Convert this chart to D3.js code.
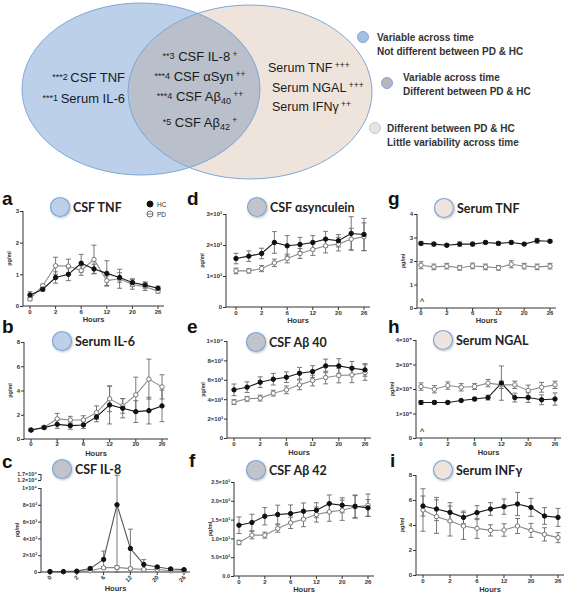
<!DOCTYPE html>
<html><head><meta charset="utf-8">
<script src="https://cdn.jsdelivr.net/npm/d3@7"></script>
<style>body{margin:0;background:#fff}svg{display:block}</style>
</head><body>
<svg id="c" width="567" height="594"></svg>
<script>
// ---------- DATA ----------
const hours = ["0","1","2","4","6","9","12","16","20","23","26"];
const tickHours = ["0","2","6","12","20","26"];
const seriesNames = ["HC","PD"];

const aHC=[0.35,0.53,0.9,1.0,1.35,1.17,1.03,0.9,0.74,0.66,0.56];
const aHCErr=[0.1,0.06,0.18,0.2,0.28,0.15,0.4,0.15,0.12,0.1,0.07];
const aPD=[0.22,0.64,1.27,1.26,1.12,1.47,0.8,0.86,0.68,0.61,0.47];
const aPDErr=[0.05,0.05,0.27,0.22,0.15,0.45,0.15,0.3,0.15,0.12,0.06];
const aTicks=[0,1,2,3], aTickLabels=["0","1","2","3"];

const bHC=[0.74,0.94,1.21,1.1,1.16,1.82,2.81,2.54,2.26,2.34,2.73];
const bHCErr=[0.1,0.1,0.33,0.3,0.3,0.4,1.57,0.8,0.9,1.1,1.3];
const bPD=[0.74,0.97,1.66,1.57,1.57,2.18,3.31,2.73,3.64,4.94,4.3];
const bPDErr=[0.1,0.1,0.45,0.3,0.35,0.55,1.05,0.6,1.46,1.65,1.0];
const bTicks=[0,2,4,6,8], bTickLabels=["0","2","4","6","8"];

const cHC=[50,50,100,420,1500,8000,2800,900,600,360,280];
const cHCErr=[20,20,40,100,1000,8000,2300,570,150,100,80];
const cPD=[30,30,50,150,500,550,400,300,300,150,100];
const cPDErr=[10,10,20,50,150,200,150,100,80,50,30];
const cTicks=[0,2000,4000,6000,8000,10000,12000,17000];
const cTickLabels=["0","2×10³","4×10³","6×10³","8×10³","1×10⁴","1.2×10⁴","1.7×10⁴"];

const dHC=[1564,1640,1726,2082,1974,2017,2082,2190,2136,2373,2340];
const dHCErr=[170,170,170,350,330,230,220,250,200,540,520];
const dPD=[1165,1165,1240,1424,1564,1726,1855,1974,2028,2190,2265];
const dPDErr=[90,70,100,120,140,160,190,230,220,350,450];
const dTicks=[0,1000,2000,3000], dTickLabels=["0","1×10³","2×10³","3×10³"];

const eHC=[4966,5240,5753,6062,6267,6678,6849,7431,7431,7192,7020];
const eHCErr=[600,550,550,600,550,600,600,700,750,700,650];
const ePD=[3700,4041,4110,4623,4966,5479,5924,6233,6438,6507,6747];
const ePDErr=[250,250,300,300,400,500,550,650,750,800,800];
const eTicks=[0,2000,4000,6000,8000,10000];
const eTickLabels=["0","2×10³","4×10³","6×10³","8×10³","1×10⁴"];

const fHC=[1351,1422,1590,1634,1660,1722,1749,1925,1881,1855,1811];
const fHCErr=[220,220,230,250,230,220,200,230,200,300,220];
const fPD=[892,1087,1087,1263,1413,1511,1634,1705,1749,1837,1881];
const fPDErr=[60,100,80,100,150,200,200,250,270,300,300];
const fTicks=[0,500,1000,1500,2000,2500];
const fTickLabels=["0.0","5.0×10²","1.0×10³","1.5×10³","2.0×10³","2.5×10³"];

const gHC=[2.75,2.72,2.67,2.72,2.72,2.79,2.75,2.79,2.72,2.86,2.84];
const gHCErr=[0.07,0.08,0.06,0.09,0.08,0.06,0.07,0.06,0.05,0.1,0.06];
const gPD=[1.82,1.75,1.78,1.71,1.79,1.75,1.71,1.86,1.78,1.75,1.78];
const gPDErr=[0.15,0.12,0.12,0.1,0.12,0.12,0.1,0.15,0.12,0.12,0.12];
const gTicks=[0,1,2,3,4], gTickLabels=["0","1","2","3","4"];

const hHC=[145000,145000,145000,153000,159000,165000,224000,165000,165000,156000,159000];
const hHCErr=[8000,7000,5000,3000,7000,10000,70000,18000,20000,20000,25000];
const hPD=[210000,199000,214000,207000,210000,224000,217000,217000,194000,207000,217000];
const hPDErr=[15000,15000,15000,15000,12000,15000,15000,15000,22000,20000,15000];
const hTicks=[0,100000,200000,300000,400000];
const hTickLabels=["0","1×10⁵","2×10⁵","3×10⁵","4×10⁵"];

const iHC=[5.52,5.28,5.01,4.61,4.99,5.28,5.47,5.68,5.41,4.72,4.61];
const iHCErr=[0.8,0.93,0.78,0.51,0.56,0.51,0.61,0.93,0.72,0.67,0.72];
const iPD=[5.2,4.67,4.32,3.92,3.73,3.57,3.6,3.92,3.57,3.25,2.99];
const iPDErr=[1.7,1.34,1.2,1.07,0.8,0.45,0.5,0.6,0.56,0.53,0.4];
const iTicks=[0,2,4,6,8], iTickLabels=["0","2","4","6","8"];

const panelLetters=["a","b","c","d","e","f","g","h","i"];
const panelTitles=["CSF TNF","Serum IL-6","CSF IL-8","CSF \u03b1synculein","CSF A\u03b2 40","CSF A\u03b2 42","Serum TNF","Serum NGAL","Serum INF\u03b3"];

const vennLeftPre=["***2","***1"], vennLeftNames=["CSF TNF","Serum IL-6"];
const vennMidPre=["**3","***4","***4","*5"], vennMidNames=["CSF IL-8","CSF \u03b1Syn","CSF A\u03b2","CSF A\u03b2"];
const vennMidSub=["","","40","42"], vennMidPost=["+","++","++","+"];
const vennRightNames=["Serum TNF","Serum NGAL","Serum IFN\u03b3"], vennRightPost=["+++","+++","++"];
const legendLines=[["Variable across time","Not different between PD & HC"],["Variable across time","Different between PD & HC"],["Different between PD & HC","Little variability across time"]];

// ---------- STYLE ----------
const svg=d3.select("#c");
const SANS="'Liberation Sans', Arial, Helvetica, sans-serif";
const TITLEF="Lato, 'Open Sans', sans-serif";
const BLUE="#bcd0e9", GRAY="#c3c4cb", BEIGE="#efe4dc", EDGE="#7ea7d6";
const groupCols=[BLUE,BLUE,GRAY,GRAY,GRAY,GRAY,BEIGE,BEIGE,BEIGE];

// ---------- VENN ----------
const L={cx:141,cy:89,rx:119,ry:86}, R={cx:250,cy:92,rx:122,ry:87};
const defs=svg.append("defs");
defs.append("clipPath").attr("id","lclip").append("ellipse").attr("cx",L.cx).attr("cy",L.cy).attr("rx",L.rx).attr("ry",L.ry);
const flt=defs.append("filter").attr("id","sh").attr("x","-50%").attr("y","-50%").attr("width","200%").attr("height","200%");
flt.append("feDropShadow").attr("dx",0.8).attr("dy",1).attr("stdDeviation",0.9).attr("flood-color","#000").attr("flood-opacity",0.25);
const ell=(e,fill,stroke,clip)=>{const s=svg.append("ellipse").attr("cx",e.cx).attr("cy",e.cy).attr("rx",e.rx).attr("ry",e.ry).attr("fill",fill).attr("stroke",stroke).attr("stroke-width",1);if(clip)s.attr("clip-path","url(#lclip)");return s;};
ell(R,BEIGE,"none");
ell(L,BLUE,"none");
ell(R,"#b9c0cb","none",true);
ell(R,"none",EDGE);
ell(L,"none",EDGE);

function richText(x,y,anchor,parts){
  const t=svg.append("text").attr("x",x).attr("y",y).attr("text-anchor",anchor)
    .attr("font-family",SANS).attr("fill","#1a1a1a");
  let cur=0;
  parts.forEach(p=>{
    if(!p.t) return;
    const target=p.shift||0;
    t.append("tspan").attr("dy",target-cur).attr("font-size",p.s).text(p.t);
    cur=target;
  });
  return t;
}
vennLeftNames.forEach((n,k)=>{
  richText(125,[82,103][k],"end",[{t:vennLeftPre[k],s:9,shift:-2.5},{t:"\u2009"+n,s:13,shift:0}]);
});
vennMidNames.forEach((n,k)=>{
  richText(200,[61,81,101,127][k],"middle",[
    {t:vennMidPre[k],s:9,shift:-2.5},{t:" "+n,s:13,shift:0},
    {t:vennMidSub[k],s:9,shift:3},{t:" "+vennMidPost[k],s:8.5,shift:-4}]);
});
vennRightNames.forEach((n,k)=>{
  richText([268,272,272][k],[72,92,111][k],"start",[{t:n,s:12.5,shift:0},{t:" "+vennRightPost[k],s:8.5,shift:-4}]);
});
// legend
const legCirc=[[363,37,"#a3bfe1"],[387,83,"#b5b6be"],[375,128,"#eee3db"]];
const legText=[[377,41],[403,81],[387,132]];
legendLines.forEach((ls,k)=>{
  svg.append("circle").attr("cx",legCirc[k][0]).attr("cy",legCirc[k][1]).attr("r",5.5)
    .attr("fill",legCirc[k][2]).attr("stroke",k==2?"#b9cbe0":EDGE).attr("stroke-width",1);
  ls.forEach((s,j)=>svg.append("text").attr("x",legText[k][0]).attr("y",legText[k][1]+j*14)
    .attr("font-family",SANS).attr("font-weight","bold").attr("font-size",10).attr("fill","#333").text(s));
});

// ---------- PANELS ----------
const panelData=[
 [aHC,aHCErr,aPD,aPDErr,aTicks,aTickLabels],
 [bHC,bHCErr,bPD,bPDErr,bTicks,bTickLabels],
 [cHC,cHCErr,cPD,cPDErr,cTicks,cTickLabels],
 [dHC,dHCErr,dPD,dPDErr,dTicks,dTickLabels],
 [eHC,eHCErr,ePD,ePDErr,eTicks,eTickLabels],
 [fHC,fHCErr,fPD,fPDErr,fTicks,fTickLabels],
 [gHC,gHCErr,gPD,gPDErr,gTicks,gTickLabels],
 [hHC,hHCErr,hPD,hPDErr,hTicks,hTickLabels],
 [iHC,iHCErr,iPD,iPDErr,iTicks,iTickLabels]
];
// layout: axisX, px0, px1, yBottom, yTop, tickLabelY, hoursY, letterX, letterY, circX, circY
const layout=[
 [23,30,158,306,211,312,319,2,205,60,207],
 [24,31,162,439,342,444,453,2,333,62,341],
 [41,50,184,572,488,578,588,2,468,62,469],
 [226,236,364,307,214,313,320,187,205,257,207],
 [227,234,365,438,341,444,452,187,333,256,342],
 [234,239,368,576,482,582,589,189,467,256,470],
 [417,421,550,308,214,313,320,388,205,444,208],
 [416,421,555,438,340,444,452,388,333,443,340],
 [416,423,558,575,475,581,589,390,467,443,470]
];

panelData.forEach((pd,k)=>{
  const [hc,hcE,pdv,pdE,ticks,tickLabels]=pd;
  const [ax,px0,px1,yb,yt,tly,hy,lx,ly,cx,cy]=layout[k];
  const g=svg.append("g");
  const x=d3.scalePoint().domain(hours).range([px0,px1]);
  let y;
  if(k===2){
    y=d3.scaleLinear().domain([0,10000,12000,17000]).range([yb,yt,480,474]);
  } else {
    y=d3.scaleLinear().domain([ticks[0],ticks[ticks.length-1]]).range([yb,yt]);
  }
  const yAxis=d3.axisLeft(y).tickValues(ticks).tickFormat((d,i)=>tickLabels[i]).tickSize(3).tickSizeOuter(0);
  const ya=g.append("g").attr("transform",`translate(${ax},0)`).call(yAxis);
  ya.select(".domain").remove();
  if(k===2){
    g.append("line").attr("x1",ax).attr("x2",ax).attr("y1",y(0)).attr("y2",y(10000)).attr("stroke","#333");
    g.append("line").attr("x1",ax).attr("x2",ax).attr("y1",y(12000)).attr("y2",y(17000)).attr("stroke","#333");
  } else {
    g.append("line").attr("x1",ax).attr("x2",ax).attr("y1",yb).attr("y2",yt).attr("stroke","#333");
  }
  ya.selectAll(".tick line").attr("stroke","#333");
  ya.selectAll("text").attr("font-family",SANS).attr("font-size",k===2||k===5?5.5:6).attr("font-weight","bold").attr("fill","#333").attr("x",-4);
  g.append("line").attr("x1",ax).attr("x2",px1+6).attr("y1",yb).attr("y2",yb).attr("stroke","#333");
  tickHours.forEach(h=>{
    g.append("line").attr("x1",x(h)).attr("x2",x(h)).attr("y1",yb).attr("y2",yb+3).attr("stroke","#333");
    const t=g.append("text").attr("font-family",SANS).attr("font-size",6).attr("font-weight","bold").attr("fill","#333").text(h);
    if(k===2){
      t.attr("text-anchor","end").attr("transform",`translate(${x(h)+2},${yb+6}) rotate(-45)`);
    } else {
      t.attr("x",x(h)).attr("y",tly+2).attr("text-anchor","middle");
    }
  });
  g.append("text").attr("x",(ax+px1)/2+3).attr("y",hy+2.5).attr("text-anchor","middle")
    .attr("font-family",SANS).attr("font-size",7.5).attr("font-weight","bold").attr("fill","#333").text("Hours");
  g.append("text").attr("transform",`translate(${ax-(k===2||k===5||k===3||k===4||k===7?22:12)},${(yb+yt)/2}) rotate(-90)`)
    .attr("text-anchor","middle").attr("font-family",SANS).attr("font-size",5.5).attr("font-weight","bold").attr("fill","#333").text("pg/ml");
  g.append("text").attr("x",lx).attr("y",ly).attr("font-family",SANS).attr("font-weight","bold").attr("font-size",19).attr("fill","#111").text(panelLetters[k]);
  g.append("circle").attr("cx",cx).attr("cy",cy).attr("r",9.5).attr("fill",groupCols[k]).attr("stroke",EDGE).attr("stroke-width",1.2).attr("filter","url(#sh)");
  g.append("text").attr("x",cx+13).attr("y",cy+4.5).attr("font-family",TITLEF).attr("font-weight","bold").attr("font-size",12.5).attr("fill","#222").text(panelTitles[k]);

  const series=[{v:pdv,e:pdE,line:"#8c8c8c",fill:"#fff",stroke:"#777"},{v:hc,e:hcE,line:k===2?"#555":"#1a1a1a",fill:"#111",stroke:"#111"}];
  series.forEach(s=>{
    const pts=hours.map((h,i)=>[x(h),y(s.v[i])]);
    g.append("path").attr("d",d3.line()(pts)).attr("fill","none").attr("stroke",s.line).attr("stroke-width",1.1);
  });
  series.forEach(s=>{
    hours.forEach((h,i)=>{
      const lo=Math.max(0,s.v[i]-s.e[i]), hi=s.v[i]+s.e[i];
      const xx=x(h);
      g.append("line").attr("x1",xx).attr("x2",xx).attr("y1",y(lo)).attr("y2",y(hi)).attr("stroke","#6a6a6a").attr("stroke-width",0.9);
      [lo,hi].forEach(v=>g.append("line").attr("x1",xx-2.5).attr("x2",xx+2.5).attr("y1",y(v)).attr("y2",y(v)).attr("stroke","#6a6a6a").attr("stroke-width",0.9));
    });
  });
  series.forEach(s=>{
    hours.forEach((h,i)=>{
      g.append("circle").attr("cx",x(h)).attr("cy",y(s.v[i])).attr("r",2.2).attr("fill",s.fill).attr("stroke",s.stroke).attr("stroke-width",1);
    });
  });
  if(k===6||k===7){
    g.append("text").attr("x",x("0")+1).attr("y",yb-3).attr("text-anchor","middle").attr("font-family",SANS).attr("font-size",9).attr("fill","#111").text("^");
  }
  if(k===0){
    seriesNames.forEach((n,j)=>{
      const yy=204+j*10;
      g.append("circle").attr("cx",150).attr("cy",yy).attr("r",3).attr("fill",j===0?"#111":"#fff").attr("stroke",j===0?"#111":"#666").attr("stroke-width",1);
      if(j===1) g.append("line").attr("x1",147).attr("x2",153).attr("y1",yy).attr("y2",yy).attr("stroke","#666").attr("stroke-width",0.8);
      g.append("text").attr("x",157).attr("y",yy+2.5).attr("font-family",SANS).attr("font-size",6.5).attr("fill","#333").text(n);
    });
  }
});
</script>
</body></html>
